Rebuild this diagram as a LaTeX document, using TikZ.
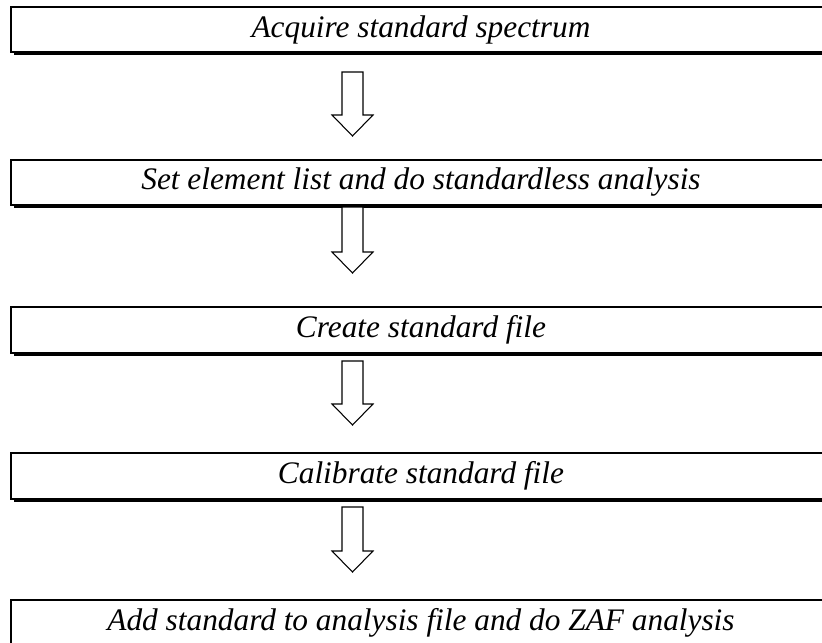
\documentclass[tikz,border=0pt]{standalone}
\usepackage{fontspec}
\setmainfont{Liberation Serif}
\usetikzlibrary{shadows}
\begin{document}
\begin{tikzpicture}[x=0.75pt,y=-0.75pt,
  stepbox/.style={draw=black, line width=1.4pt, fill=white,
    minimum width=615pt, minimum height=34pt, inner sep=0pt,
    font=\fontsize{23.5}{26}\selectfont\itshape,
    general shadow={fill=black, shadow xshift=2.2pt, shadow yshift=-2.2pt}},
  blockarrow/.style={draw=black, line width=0.8pt, fill=white, line join=miter}]
\useasboundingbox (0,0) rectangle (822,643);
\clip (0,0) rectangle (822,643);
\node[stepbox] (b1) at (421,29.5) {Acquire standard spectrum};
\node[stepbox] (b2) at (421,182.5) {Set element list and do standardless analysis};
\node[stepbox] (b3) at (421,330) {Create standard file};
\node[stepbox] (b4) at (421,476) {Calibrate standard file};
\node[stepbox] (b5) at (421,623) {Add standard to analysis file and do ZAF analysis};
\coordinate (a1) at (352.5,72);
\coordinate (a2) at (352.5,207);
\coordinate (a3) at (352.5,361);
\coordinate (a4) at (352.5,507);
\foreach \a/\s in {a1/43,a2/45,a3/43,a4/44}{
  \draw[blockarrow] ([xshift=-7.875pt]\a) -- ++(21,0) -- ++(0,\s) -- ++(10,0)
    -- ++(-20.5,21) -- ++(-20.5,-21) -- ++(10,0) -- cycle;
}
\end{tikzpicture}
\end{document}
